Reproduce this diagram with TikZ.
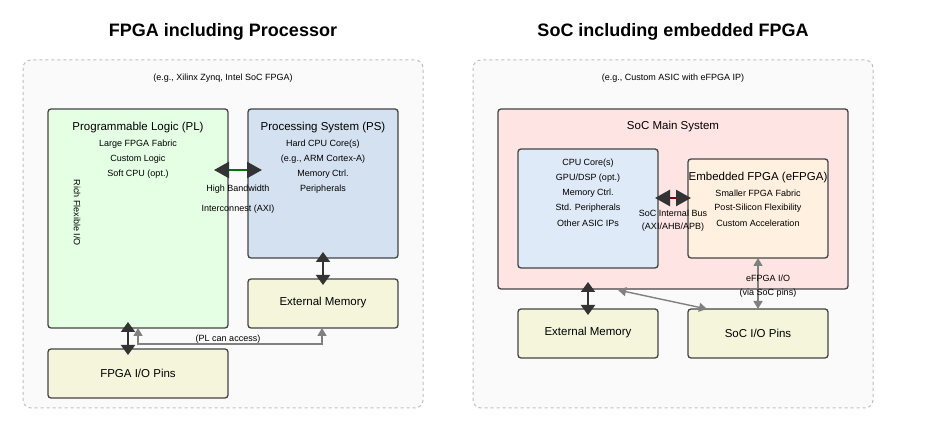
\documentclass[tikz,border=0pt]{standalone}
\usepackage{fontspec}
\setmainfont{Liberation Sans}
\usetikzlibrary{arrows.meta}
\definecolor{frame}{HTML}{444444}
\tikzset{
 box/.style={draw=frame,line width=1.3pt,rounded corners=3pt},
 panel/.style={draw=black!25,dashed,line width=1pt,rounded corners=8pt,fill=black!2},
 t/.style={font=\fontsize{11.5}{13}\selectfont,inner sep=0pt},
 s/.style={font=\fontsize{9}{10}\selectfont,inner sep=0pt},
 big/.style={line width=2pt,draw=black!80,{Triangle[length=10pt,width=14pt]}-{Triangle[length=10pt,width=14pt]}},
 bus/.style={line width=2.5pt,{Triangle[length=15pt,width=16pt,color=black!80,fill=black!80]}-{Triangle[length=15pt,width=16pt,color=black!80,fill=black!80]}},
 gray/.style={draw=black!50,line width=1.4pt,{Triangle[length=8pt,width=9pt]}-{Triangle[length=8pt,width=9pt]}},
}
\begin{document}
\begin{tikzpicture}[x=1pt,y=-1pt]
\useasboundingbox[fill=white] (0,0) rectangle (927,446);
\node[font=\fontsize{18}{20}\selectfont\bfseries] (t1) at (223,32) {FPGA including Processor};
\node[font=\fontsize{18}{20}\selectfont\bfseries] (t2) at (673,32) {SoC including embedded FPGA};
\draw[panel] (23,60) rectangle (423,408);
\draw[panel] (473,60) rectangle (873,408);
\node[s] (e1) at (223,78) {(e.g., Xilinx Zynq, Intel SoC FPGA)};
\node[s] (e2) at (673,78) {(e.g., Custom ASIC with eFPGA IP)};
% left
\draw[box,fill=green!10] (48,109) rectangle (228,328);
\node[t] (pl) at (138,128) {Programmable Logic (PL)};
\node[s] at (138,144) {Large FPGA Fabric};
\node[s] at (138,159) {Custom Logic};
\node[s] at (138,174) {Soft CPU (opt.)};
\node[s,rotate=-90] (rio) at (77,213) {Rich Flexible I/O};
\draw[box,fill={rgb,255:red,212;green,225;blue,240}] (248,109) rectangle (398,258);
\node[t] (ps) at (323,128) {Processing System (PS)};
\node[s] at (323,144) {Hard CPU Core(s)};
\node[s] at (323,159) {(e.g., ARM Cortex-A)};
\node[s] at (323,174) {Memory Ctrl.};
\node[s] at (323,189) {Peripherals};
\draw[box,fill={rgb,255:red,245;green,245;blue,220}] (248,279) rectangle (398,328);
\node[t] (em1) at (323,303) {External Memory};
\draw[box,fill={rgb,255:red,245;green,245;blue,220}] (48,349) rectangle (228,398);
\node[t] (pins1) at (138,373) {FPGA I/O Pins};
\coordinate (a1) at (214,170); \coordinate (b1) at (262,170);
\draw[bus,draw=green!45!black] (a1) -- (b1);
\node[s] (hb) at (238,189) {High Bandwidth};
\node[s] (ic) at (238,209) {Interconnest (AXI)};
\coordinate (a2) at (323,252); \coordinate (b2) at (323,285);
\draw[big] (a2) -- (b2);
\coordinate (a3) at (128,322); \coordinate (b3) at (128,355);
\draw[big] (a3) -- (b3);
\coordinate (g1) at (138,328); \coordinate (g2) at (322,328);
\draw[gray] (g1) -- (138,344) -- (322,344) -- (g2);
\node[s,inner sep=1pt] (pla) at (228,339) {(PL can access)};
% right
\draw[box,fill={rgb,255:red,255;green,228;blue,228}] (498,109) rectangle (848,289);
\node[t] (soc) at (673,127) {SoC Main System};
\draw[box,fill={rgb,255:red,222;green,234;blue,247}] (518,149) rectangle (658,268);
\node[s] (cpu) at (588,163) {CPU Core(s)};
\node[s] at (588,178) {GPU/DSP (opt.)};
\node[s] at (588,193) {Memory Ctrl.};
\node[s] at (588,208) {Std. Peripherals};
\node[s] at (588,223) {Other ASIC IPs};
\draw[box,fill={rgb,255:red,255;green,240;blue,224}] (688,159) rectangle (828,258);
\node[t] (ef) at (758,178) {Embedded FPGA (eFPGA)};
\node[s] at (758,193) {Smaller FPGA Fabric};
\node[s] at (758,208) {Post-Silicon Flexibility};
\node[s] at (758,223) {Custom Acceleration};
\coordinate (a4) at (655,198); \coordinate (b4) at (691,198);
\draw[bus,draw=red!50!black] (a4) -- (b4);
\node[s] (sb) at (673,213) {SoC Internal Bus};
\node[s] (sb2) at (673,227) {(AXI/AHB/APB)};
\draw[box,fill={rgb,255:red,245;green,245;blue,220}] (518,309) rectangle (658,358);
\node[t] (em2) at (588,333) {External Memory};
\draw[box,fill={rgb,255:red,245;green,245;blue,220}] (688,309) rectangle (828,358);
\node[t] (pins2) at (758,333) {SoC I/O Pins};
\coordinate (a5) at (588,282); \coordinate (b5) at (588,315);
\draw[big] (a5) -- (b5);
\coordinate (g3) at (618,290); \coordinate (g4) at (707,309);
\draw[gray] (g3) -- (g4);
\coordinate (g5) at (758,258); \coordinate (g6) at (758,309);
\draw[gray] (g5) -- (g6);
\node[s] (eio) at (768,278) {eFPGA I/O};
\node[s] (via) at (768,293) {(via SoC pins)};
\end{tikzpicture}
\end{document}
